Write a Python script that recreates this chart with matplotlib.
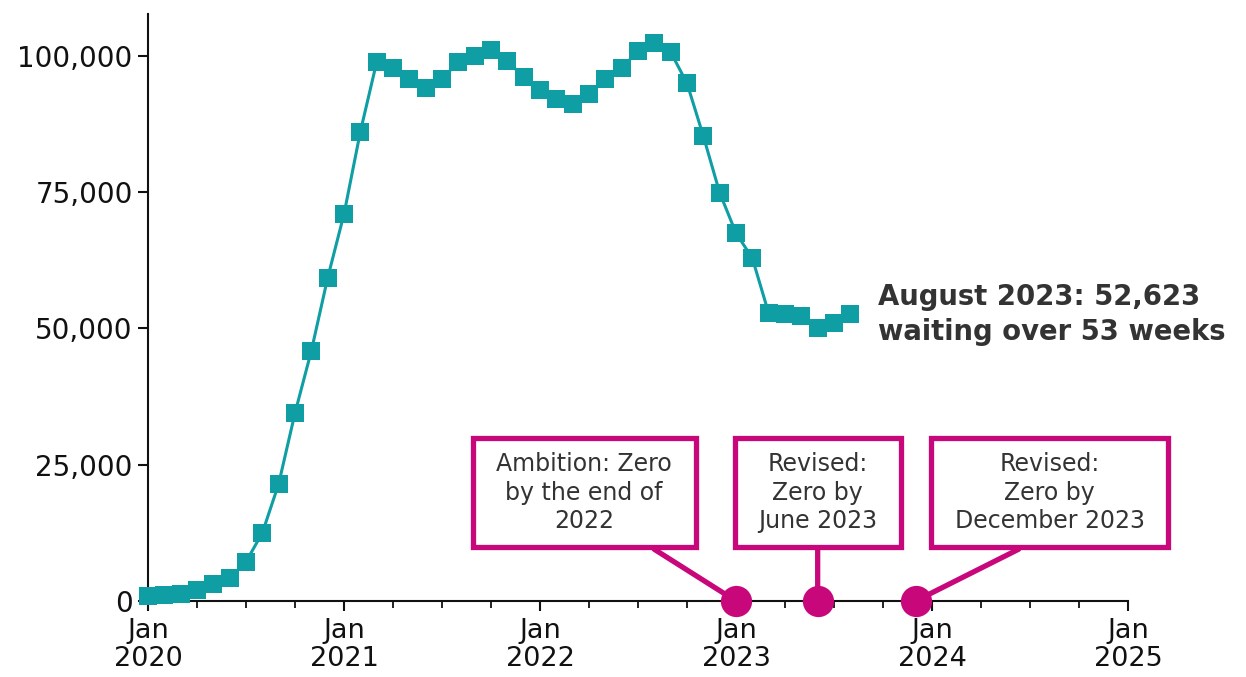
import numpy as np
import matplotlib.pyplot as plt
from matplotlib.path import Path
from matplotlib.ticker import FuncFormatter, MultipleLocator

# waiting list over 52/53 weeks, monthly from Jan 2020 to Aug 2023
months = np.arange(44)  # 0 = Jan 2020
waiting = [1000, 1100, 1300, 2000, 3100, 4200, 7200, 12500, 21500, 34500, 45900, 59300,
           71000, 86100, 98900, 97800, 95800, 94100, 95800, 98900, 100000, 101100, 99100, 96100,
           93800, 92100, 91200, 93000, 95800, 97800, 100900, 102400, 100700, 95000, 85300, 74900,
           67500, 62900, 52800, 52700, 52300, 50100, 51000, 52623]

year_ticks = [0, 12, 24, 36, 48, 60]
year_labels = ['Jan\n2020', 'Jan\n2021', 'Jan\n2022', 'Jan\n2023', 'Jan\n2024', 'Jan\n2025']

# target dates (month index) and their callout text
targets = [36, 41, 47]
target_text = ['Ambition: Zero\nby the end of\n2022',
               'Revised:\nZero by\nJune 2023',
               'Revised:\nZero by\nDecember 2023']
box_x = [26.7, 41.0, 55.2]
box_y = 19900
box_relpos = [(0.75, 0), (0.5, 0), (0.51, 0)]

teal = '#0E9EA3'
magenta = '#C8077B'
dark = '#333333'

plt.rcParams['font.family'] = ['DejaVu Sans']


def wide_box(padx, pady):
    # square box with separate horizontal / vertical padding
    def box(x0, y0, width, height, mutation_size):
        px, py = padx * mutation_size, pady * mutation_size
        x0, y0 = x0 - px, y0 - py
        x1, y1 = x0 + width + 2 * px, y0 + height + 2 * py
        return Path([(x0, y0), (x1, y0), (x1, y1), (x0, y1), (x0, y0)],
                    [Path.MOVETO, Path.LINETO, Path.LINETO, Path.LINETO, Path.CLOSEPOLY])
    return box


fig = plt.figure(figsize=(12.46, 6.77), dpi=100)
ax = fig.add_axes([0.1188, 0.1123, 0.7865, 0.867])

ax.plot(months, waiting, color=teal, lw=2.2, marker='s', markersize=12.5,
        markeredgewidth=0, zorder=3, clip_on=False)

ax.set_xlim(0, 60)
ax.set_ylim(0, 107700)
ax.set_xticks(year_ticks)
ax.set_xticklabels(year_labels, linespacing=1.1)
ax.xaxis.set_minor_locator(MultipleLocator(3))
ax.set_yticks([0, 25000, 50000, 75000, 100000])
ax.yaxis.set_major_formatter(FuncFormatter(lambda v, p: f'{int(v):,}'))

for s in ['top', 'right']:
    ax.spines[s].set_visible(False)
for s in ['left', 'bottom']:
    ax.spines[s].set_linewidth(1.5)
    ax.spines[s].set_color('#111111')
ax.tick_params(axis='both', which='major', length=7, width=1.5, labelsize=20,
               colors='#111111', pad=4)
ax.tick_params(axis='x', which='major', pad=5, labelsize=19.5)
ax.tick_params(axis='x', which='minor', length=5, width=1.3, colors='#111111')

# callout boxes pointing at target dates
for tx, txt, bx, rp in zip(targets, target_text, box_x, box_relpos):
    ax.annotate(txt, xy=(tx, 0), xytext=(bx, box_y), xycoords='data', textcoords='data',
                ha='center', va='center', fontsize=17, color=dark, linespacing=1.22,
                bbox=dict(boxstyle=wide_box(1.0, 0.62), fc='white', ec=magenta, lw=3.8),
                arrowprops=dict(arrowstyle='-', color=magenta, lw=3.8, relpos=rp,
                                shrinkA=0, shrinkB=0),
                annotation_clip=False, zorder=4)
ax.plot(targets, [0] * len(targets), 'o', color=magenta, markersize=22.5,
        markeredgewidth=0, zorder=5, clip_on=False)

ax.text(44.7, 52600, 'August 2023: 52,623\nwaiting over 53 weeks', fontsize=19.8,
        fontweight='bold', color=dark, ha='left', va='center', linespacing=1.3)

fig.savefig('out.png', dpi=100)
